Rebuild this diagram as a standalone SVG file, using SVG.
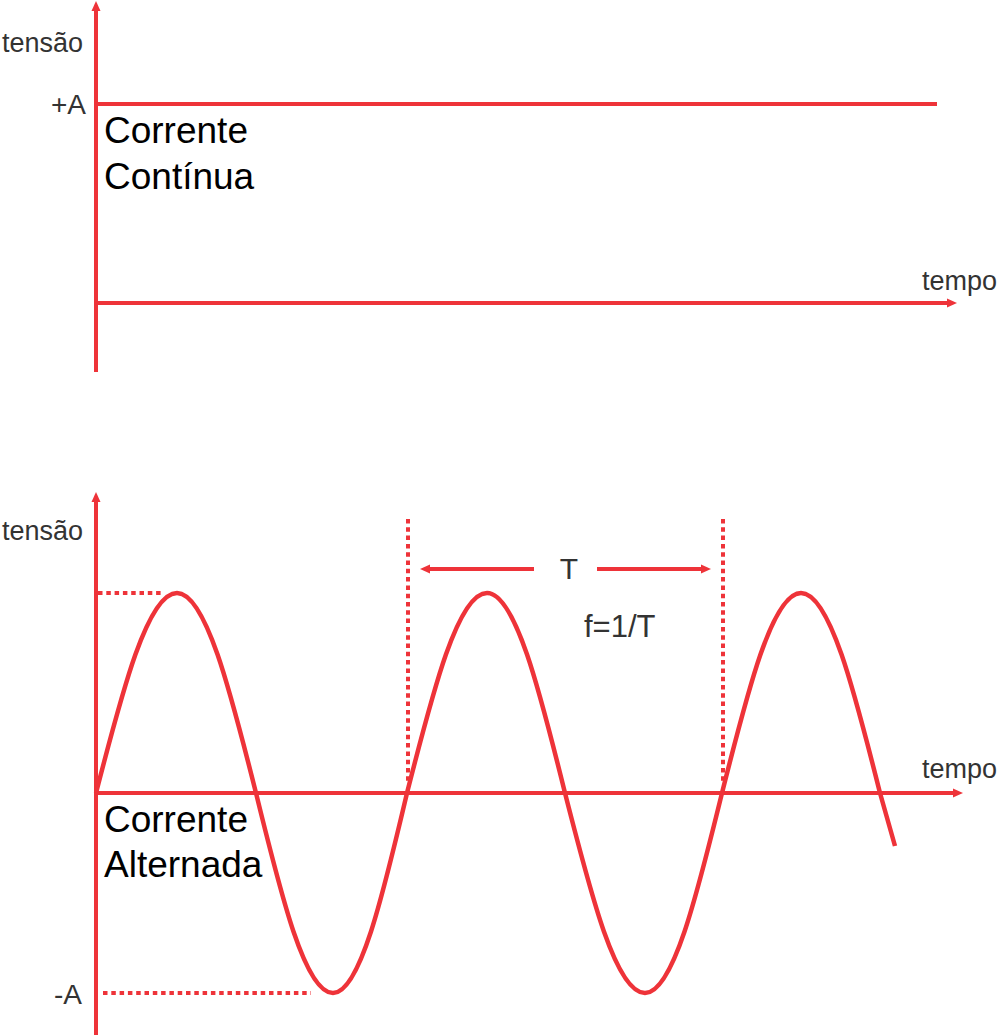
<svg xmlns="http://www.w3.org/2000/svg" width="1000" height="1035" viewBox="0 0 1000 1035">
<style>
.ax{stroke:#ee3339;stroke-width:4;fill:none}
.arr{stroke:#ee3339;stroke-width:4;fill:none;marker-end:url(#ah)}
.dot{stroke:#ee3339;stroke-width:4;fill:none;stroke-dasharray:4.5 3.8}
.wave{stroke:#ee3339;stroke-width:4.5;fill:none;stroke-linejoin:round}
.lbl{font-family:"Liberation Sans",Arial,sans-serif;fill:#333333}
.big{font-family:"Liberation Sans",Arial,sans-serif;fill:#000000;font-size:37px}
</style>
<defs>
<marker id="ah" markerUnits="userSpaceOnUse" markerWidth="12" markerHeight="12" refX="0" refY="0" viewBox="0 -6 12 12" orient="auto" overflow="visible">
<path d="M0,-4.5 L10,0 L0,4.5 Z" fill="#ee3339"/>
</marker>
</defs>
<rect width="1000" height="1035" fill="#ffffff"/>

<g id="dc-chart">
<g id="dc-axes">
<line class="arr" x1="96" y1="372" x2="96" y2="11"/>
<line class="arr" x1="96" y1="303" x2="947" y2="303"/>
</g>
<g id="dc-signal">
<line class="ax" x1="96" y1="104" x2="937" y2="104"/>
</g>
<g id="dc-labels">
<text class="lbl" x="2" y="52" font-size="27">tensão</text>
<text class="lbl" x="86" y="114" font-size="28" text-anchor="end">+A</text>
<text class="lbl" x="922" y="290" font-size="27">tempo</text>
<text class="big" x="104" y="143">Corrente</text>
<text class="big" x="104" y="189">Contínua</text>
</g>
</g>

<g id="ac-chart">
<g id="ac-axes">
<line class="arr" x1="96" y1="1035" x2="96" y2="502"/>
<line class="arr" x1="96" y1="793" x2="953" y2="793"/>
</g>
<g id="ac-guides">
<line class="dot" x1="98" y1="593" x2="163" y2="593"/>
<line class="dot" x1="103" y1="993" x2="311" y2="993"/>
<line class="dot" x1="408" y1="519" x2="408" y2="784"/>
<line class="dot" x1="723" y1="519" x2="723" y2="784"/>
</g>
<g id="ac-period">
<line class="arr" x1="534" y1="569" x2="430" y2="569"/>
<line class="arr" x1="597" y1="569" x2="701" y2="569"/>
<text class="lbl" x="569" y="579" font-size="30" text-anchor="middle">T</text>
<text class="lbl" x="584" y="637" font-size="31">f=1/T</text>
</g>
<g id="ac-signal">
<path class="wave" d="M96,793 C122.4,690.5 147.7,593 177,593 C205.6,593 230.2,690.5 256,793 C281.1,895.5 305.1,993 333,993 C359.8,993 382.9,895.5 407,793 C433.1,690.5 458,593 487,593 C515.2,593 539.6,690.5 565,793 C591.1,895.5 616,993 645,993 C672.9,993 696.9,895.5 722,793 C747.8,690.5 772.4,593 801,593 C829.6,593 854.2,690.5 880,793 L895,846"/>
</g>
<g id="ac-labels">
<text class="lbl" x="2" y="540" font-size="27">tensão</text>
<text class="lbl" x="922" y="778" font-size="27">tempo</text>
<text class="lbl" x="82" y="1004" font-size="28" text-anchor="end">-A</text>
<text class="big" x="104" y="832">Corrente</text>
<text class="big" x="104" y="877">Alternada</text>
</g>
</g>
</svg>
